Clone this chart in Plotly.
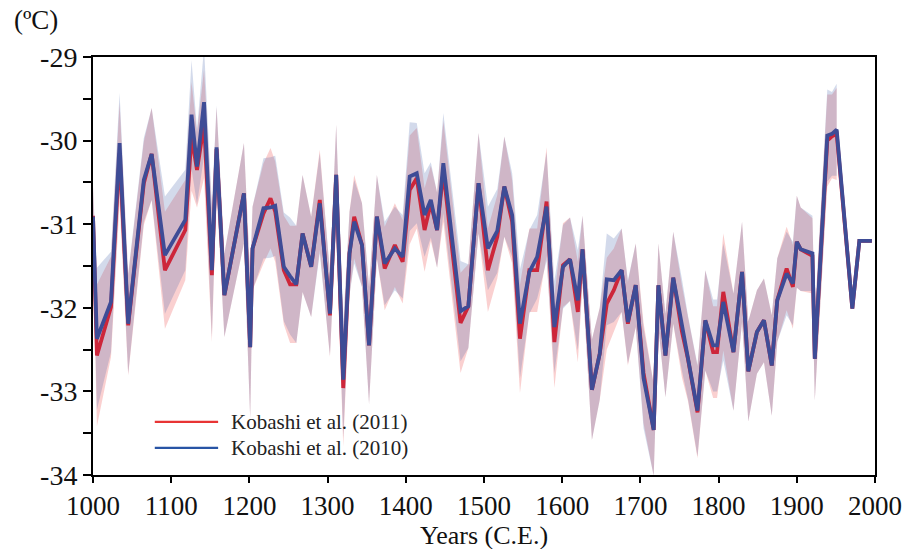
import plotly.graph_objects as go

# Greenland surface temperature reconstructions (ºC), common sample years
years = [1000, 1005, 1023, 1034, 1045, 1065, 1075, 1092, 1118, 1126, 1133, 1142,
         1152, 1158, 1168, 1193, 1201, 1204, 1218, 1227, 1233, 1244, 1252, 1260,
         1268, 1279, 1290, 1303, 1311, 1320, 1328, 1334, 1344, 1353, 1363, 1373,
         1386, 1396, 1405, 1414, 1424, 1432, 1440, 1448, 1470, 1480, 1493, 1505,
         1517, 1526, 1536, 1546, 1558, 1568, 1580, 1590, 1601, 1610, 1620, 1626,
         1638, 1648, 1657, 1666, 1676, 1684, 1694, 1704, 1717, 1723, 1732, 1742,
         1753, 1761, 1773, 1783, 1793, 1798, 1806, 1819, 1830, 1838, 1849, 1858,
         1868, 1875, 1887, 1895, 1900, 1905, 1920, 1923, 1939, 1945, 1951, 1971,
         1980, 1996]

kobashi_2011 = [-30.90, -32.57, -31.99, -30.15, -32.21, -30.51, -30.16, -31.55, -31.07, -29.95,
                -30.35, -29.80, -31.61, -30.10, -31.85, -30.63, -32.47, -31.29, -30.87, -30.69,
                -30.85, -31.55, -31.72, -31.72, -31.11, -31.51, -30.71, -32.09, -30.41, -32.96,
                -31.35, -30.91, -31.25, -32.45, -30.91, -31.53, -31.25, -31.45, -30.59, -30.45,
                -31.07, -30.75, -31.07, -30.37, -32.18, -31.98, -30.51, -31.55, -31.15, -30.55,
                -30.97, -32.37, -31.55, -31.55, -30.73, -32.41, -31.49, -31.42, -32.05, -31.30,
                -32.98, -32.55, -31.95, -31.79, -31.55, -32.19, -31.73, -32.78, -33.46, -31.73,
                -32.57, -31.64, -32.28, -32.62, -33.25, -32.15, -32.53, -32.53, -31.81, -32.53,
                -31.57, -32.76, -32.29, -32.15, -32.69, -31.91, -31.53, -31.75, -31.21, -31.30,
                -31.38, -32.61, -30.00, -29.95, -29.92, -32.01, -31.20, -31.20]

kobashi_2010 = [-30.91, -32.37, -31.93, -30.03, -32.19, -30.47, -30.16, -31.37, -30.95, -29.69,
                -30.31, -29.54, -31.55, -30.08, -31.85, -30.63, -32.47, -31.29, -30.81, -30.80,
                -30.78, -31.51, -31.62, -31.72, -31.11, -31.51, -30.75, -32.07, -30.41, -32.86,
                -31.35, -30.97, -31.25, -32.45, -30.91, -31.47, -31.29, -31.39, -30.43, -30.39,
                -30.89, -30.71, -31.07, -30.27, -32.04, -31.98, -30.51, -31.29, -31.08, -30.55,
                -30.89, -32.19, -31.57, -31.39, -30.79, -32.23, -31.51, -31.42, -31.91, -31.30,
                -32.98, -32.55, -31.66, -31.67, -31.55, -32.17, -31.73, -32.84, -33.46, -31.73,
                -32.57, -31.64, -32.20, -32.60, -33.23, -32.15, -32.45, -32.45, -31.93, -32.53,
                -31.57, -32.76, -32.29, -32.15, -32.69, -31.91, -31.59, -31.71, -31.21, -31.30,
                -31.35, -32.61, -29.94, -29.92, -29.87, -32.01, -31.20, -31.20]

# 1-sigma half-width of the uncertainty envelope (no envelope after 1951)
spread = [0.35, 0.85, 0.60, 0.60, 0.60, 0.50, 0.55, 0.70, 0.60, 0.65, 0.45, 0.65,
          0.80, 0.50, 0.50, 0.60, 0.85, 0.50, 0.60, 0.60, 0.60, 0.65, 0.70, 0.70,
          0.70, 0.60, 0.60, 0.50, 0.60, 0.70, 0.50, 0.50, 0.50, 0.70, 0.50, 0.50,
          0.50, 0.50, 0.65, 0.60, 0.50, 0.45, 0.45, 0.60, 0.60, 0.50, 0.60, 0.50,
          0.50, 0.60, 0.50, 0.65, 0.50, 0.50, 0.65, 0.55, 0.50, 0.50, 0.60, 0.40,
          0.60, 0.55, 0.55, 0.50, 0.50, 0.50, 0.50, 0.60, 0.55, 0.50, 0.50, 0.55,
          0.55, 0.50, 0.55, 0.60, 0.55, 0.55, 0.70, 0.70, 0.60, 0.60, 0.50, 0.50,
          0.60, 0.50, 0.50, 0.50, 0.55, 0.50, 0.45, 0.50, 0.55, 0.50, 0.55, None,
          None, None]

series_names = ["Kobashi et al. (2011)", "Kobashi et al. (2010)"]
y_ticks = [-34, -33, -32, -31, -30, -29]
y_tick_text = ["-34", "-33", "-32", "-31", "-30", "-29"]
x_ticks = [1000, 1100, 1200, 1300, 1400, 1500, 1600, 1700, 1800, 1900, 2000]

FONT = "Liberation Serif, Times New Roman, serif"
RED_LINE, BLUE_LINE = "rgb(205,38,58)", "rgb(62,76,150)"
RED_FILL, BLUE_FILL = "rgba(235,60,60,0.24)", "rgba(70,100,170,0.24)"
RED_KEY, BLUE_KEY = "rgb(232,52,52)", "rgb(40,84,165)"


def envelope(values):
    n = sum(s is not None for s in spread)
    xs = years[:n]
    upper = [v + s for v, s in zip(values[:n], spread[:n])]
    lower = [v - s for v, s in zip(values[:n], spread[:n])]
    return xs + xs[::-1], upper + lower[::-1]


fig = go.Figure()

for values, fill in ((kobashi_2011, RED_FILL), (kobashi_2010, BLUE_FILL)):
    bx, by = envelope(values)
    fig.add_trace(go.Scatter(x=bx, y=by, fill="toself", fillcolor=fill,
                             line=dict(width=0), mode="lines",
                             hoverinfo="skip", showlegend=False))

fig.add_trace(go.Scatter(x=years, y=kobashi_2011, mode="lines", name=series_names[0],
                         line=dict(color=RED_LINE, width=3.8), showlegend=False))
fig.add_trace(go.Scatter(x=years, y=kobashi_2010, mode="lines", name=series_names[1],
                         line=dict(color=BLUE_LINE, width=3.8), showlegend=False))

# Key drawn inside the plot, lower left
key_rows = [(0.127, RED_KEY, series_names[0]), (0.065, BLUE_KEY, series_names[1])]
for ky, kcol, label in key_rows:
    fig.add_shape(type="line", xref="paper", yref="paper",
                  x0=0.079, x1=0.160, y0=ky, y1=ky,
                  line=dict(color=kcol, width=2.2))
    fig.add_annotation(xref="paper", yref="paper", x=0.174, y=ky,
                       xanchor="left", yanchor="middle", showarrow=False,
                       text=label, font=dict(family=FONT, size=21, color="#222"))

# Unit label above the value axis
fig.add_annotation(xref="paper", yref="paper", x=-0.104, y=1.088,
                   xanchor="left", yanchor="middle", showarrow=False,
                   text="(ºC)", font=dict(family=FONT, size=27, color="#111"))

# Time axis title
fig.add_annotation(xref="paper", yref="paper", x=0.5, y=-0.145,
                   xanchor="center", yanchor="middle", showarrow=False,
                   text="Years (C.E.)", font=dict(family=FONT, size=26, color="#111"))

fig.update_layout(
    width=909, height=549,
    margin=dict(l=93, r=34, t=57, b=74),
    paper_bgcolor="white", plot_bgcolor="white",
    font=dict(family=FONT, color="#111"),
    showlegend=False,
    xaxis=dict(range=[1000, 2000], tickvals=x_ticks, automargin=False,
               ticks="outside", ticklen=6, tickwidth=1.5, tickcolor="black",
               showline=True, linecolor="black", linewidth=2, mirror=True,
               showgrid=False, zeroline=False,
               tickfont=dict(family=FONT, size=27, color="#111")),
    yaxis=dict(range=[-34, -29], tickvals=y_ticks, ticktext=y_tick_text,
               automargin=False,
               ticks="outside", ticklen=8, tickwidth=1.5, tickcolor="black",
               minor=dict(dtick=0.5, ticks="outside", ticklen=8, tickwidth=1.5,
                          tickcolor="black", showgrid=False),
               showline=True, linecolor="black", linewidth=2, mirror=True,
               showgrid=False, zeroline=False,
               tickfont=dict(family=FONT, size=28, color="#111")),
)

fig.write_html("out.html")
